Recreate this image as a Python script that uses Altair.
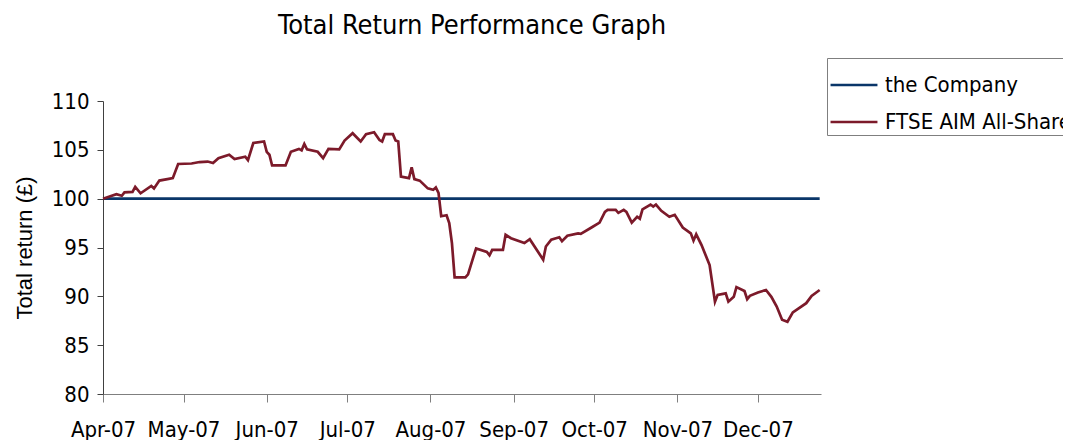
import altair as alt
import pandas as pd

# Days since 1 Apr 2007 and index values
days = [0, 5, 7, 8, 11, 12, 14, 18, 19, 21, 24, 26, 28, 33, 36, 39, 41, 43, 47, 49,
        53, 54, 56, 60, 61, 62, 63, 68, 70, 73, 74, 75, 76, 80, 82, 84, 88, 90, 93, 96,
        98, 101, 103, 104, 105, 108, 109, 110, 111, 114, 115, 116, 118, 121, 123, 124, 125, 126, 128, 129,
        130, 131, 135, 136, 138, 139, 143, 144, 145, 149, 150, 152, 157, 159, 164, 165, 167, 170, 171, 173,
        177, 178, 182, 185, 187, 188, 191, 192, 194, 195, 197, 199, 200, 201, 204, 205, 206, 208, 211, 213,
        216, 219, 220, 221, 223, 226, 228, 229, 232, 233, 235, 236, 239, 240, 241, 244, 247, 249, 251, 253,
        255, 257, 262, 264, 267]
ftse = [100.0, 100.45, 100.3, 100.65, 100.7, 101.2, 100.55, 101.3, 101.05, 101.85, 102.0, 102.1, 103.55, 103.6, 103.75, 103.8, 103.65, 104.15, 104.5, 104.05,
        104.3, 103.95, 105.7, 105.85, 104.8, 104.5, 103.4, 103.4, 104.8, 105.1, 104.95, 105.6, 105.05, 104.8, 104.15, 105.1, 105.05, 105.95, 106.7, 105.85,
        106.6, 106.8, 106.0, 105.85, 106.6, 106.6, 105.95, 105.85, 102.25, 102.1, 103.2, 102.0, 101.85, 101.05, 100.9, 101.15, 100.6, 98.2, 98.3, 97.5,
        95.45, 91.95, 91.95, 92.25, 94.05, 94.9, 94.55, 94.2, 94.75, 94.75, 96.3, 95.95, 95.45, 95.85, 93.75, 95.1, 95.8, 96.05, 95.65, 96.2,
        96.45, 96.4, 97.05, 97.55, 98.65, 98.85, 98.85, 98.55, 98.85, 98.65, 97.55, 98.15, 97.95, 98.9, 99.4, 99.2, 99.4, 98.75, 98.15, 98.35,
        97.05, 96.45, 95.7, 96.35, 95.25, 93.2, 89.45, 90.15, 90.3, 89.45, 89.95, 90.95, 90.55, 89.7, 90.05, 90.4, 90.65, 89.95, 88.95, 87.6,
        87.4, 88.35, 89.3, 90.05, 90.65]
company = [100.0] * len(days)

series_names = ["the Company", "FTSE AIM All-Share"]
series_colors = ["#0a3669", "#7c1a2a"]
month_ticks = [(2007, m) for m in range(4, 13)]

start = pd.Timestamp("2007-04-01")
dates = [start + pd.Timedelta(days=d) for d in days]
df = pd.concat([
    pd.DataFrame({"date": dates, "value": company, "series": series_names[0]}),
    pd.DataFrame({"date": dates, "value": ftse, "series": series_names[1]}),
])

font = "DejaVu Sans Condensed, Roboto, sans-serif"

chart = alt.Chart(df).mark_line(strokeWidth=2.7).encode(
    x=alt.X("date:T",
            scale=alt.Scale(domain=[alt.DateTime(year=2007, month=4, date=1),
                                    alt.DateTime(year=2007, month=12, date=24, hours=12)]),
            axis=alt.Axis(values=[alt.DateTime(year=y, month=m, date=1) for y, m in month_ticks],
                          format="%b-%y", title=None, grid=False,
                          labelFont=font, labelFontSize=22, labelColor="#000000",
                          tickSize=8, labelPadding=17, domainColor="#7f7f7f", tickColor="#7f7f7f",
                          labelFlush=False, labelOverlap=False)),
    y=alt.Y("value:Q",
            scale=alt.Scale(domain=[80, 110], nice=False, zero=False),
            axis=alt.Axis(values=[80, 85, 90, 95, 100, 105, 110], title="Total return (£)",
                          grid=False, labelFont=font, labelFontSize=22, labelColor="#000000",
                          titleFont="Liberation Sans, Arial, sans-serif", titleFontSize=22,
                          titleFontWeight="normal",
                          titleColor="#000000", titlePadding=15,
                          tickSize=6, labelPadding=8, domainColor="#404040", tickColor="#404040")),
    color=alt.Color("series:N",
                    scale=alt.Scale(domain=series_names, range=series_colors),
                    sort=series_names,
                    legend=alt.Legend(title=None, orient="none", legendX=724, legendY=-43,
                                      symbolType="stroke", symbolSize=2200, symbolStrokeWidth=2.7,
                                      labelFont=font, labelFontSize=22, labelColor="#000000",
                                      labelLimit=400, rowPadding=1, padding=2, labelOffset=6,
                                      strokeColor="#7f7f7f", fillColor="#ffffff")),
).properties(
    width=718,
    height=293,
    title=alt.TitleParams("Total Return Performance Graph", font=font, fontSize=27,
                          fontWeight="normal", color="#000000", dx=10, offset=18),
    autosize=alt.AutoSizeParams(type="none"),
    padding={"left": 95, "top": 93, "right": 242, "bottom": 48},
).configure_view(stroke=None)

chart.save("out.html", embed_options={"renderer": "svg", "actions": False})
